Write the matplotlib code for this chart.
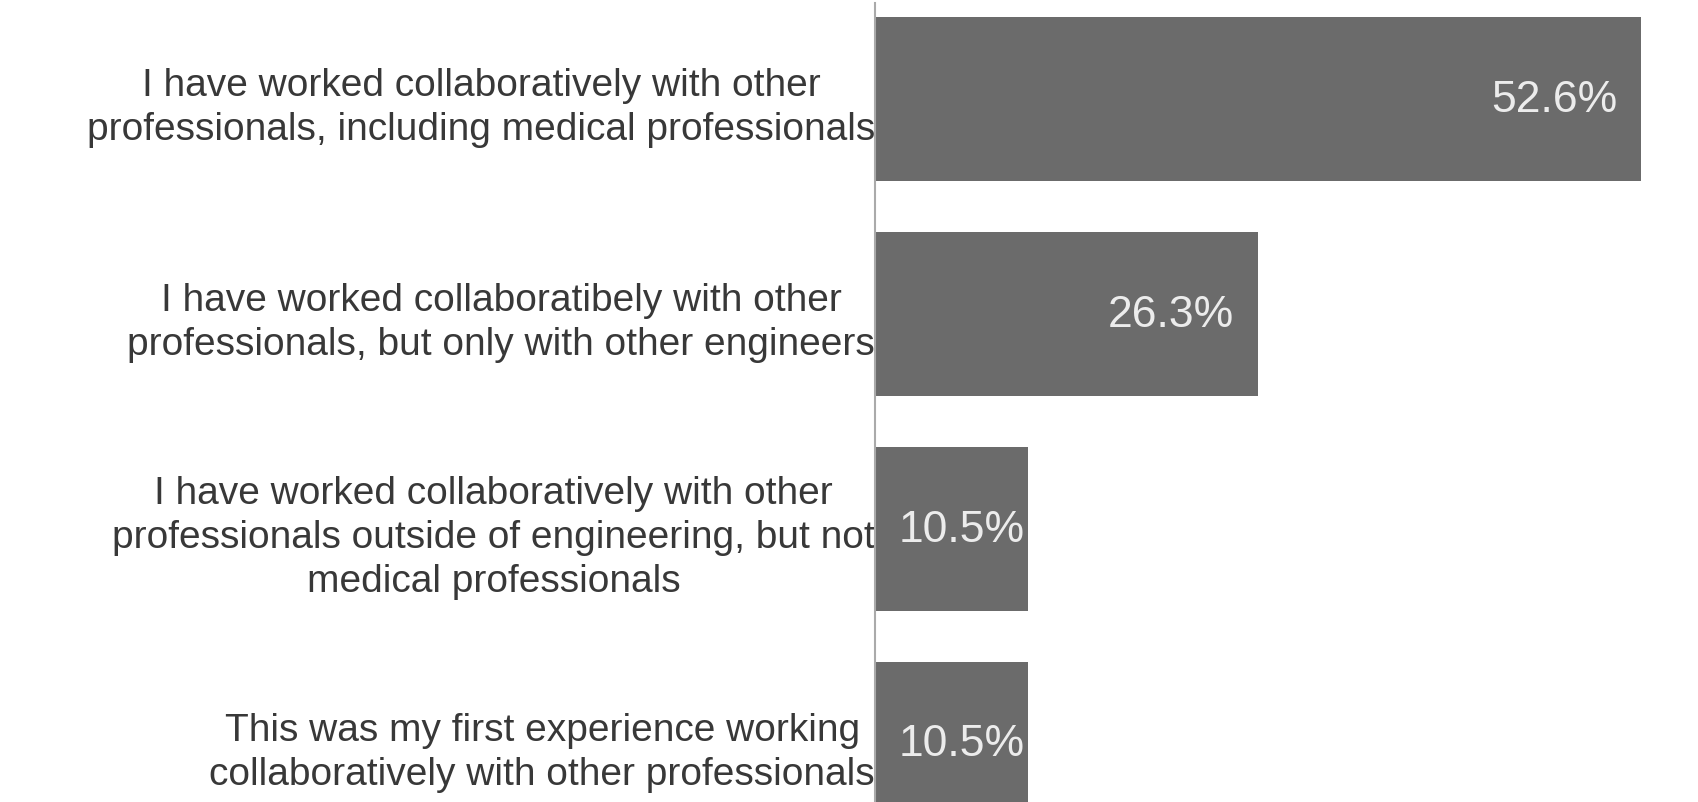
import matplotlib.pyplot as plt

# survey answers, top to bottom
labels = [
    "I have worked collaboratively with other\nprofessionals, including medical professionals",
    "I have worked collaboratibely with other\nprofessionals, but only with other engineers",
    "I have worked collaboratively with other\nprofessionals outside of engineering, but not\nmedical professionals",
    "This was my first experience working\ncollaboratively with other professionals",
]
percent = [52.6, 26.3, 10.5, 10.5]
value_text = ["52.6%", "26.3%", "10.5%", "10.5%"]

plt.rcParams['font.family'] = ['Liberation Sans', 'DejaVu Sans']

fig = plt.figure(figsize=(16.98, 8.03), dpi=100)
ax = fig.add_axes([875 / 1698, 0, 1 - 875 / 1698, 1 - 4 / 803])

ypos = list(range(len(percent)))
bars = ax.barh(ypos, percent, height=0.76, color='#6b6b6b')

ax.set_xlim(0, 56.5)
ax.set_ylim(3.27, -0.447)

for spine in ['top', 'right', 'bottom']:
    ax.spines[spine].set_visible(False)
ax.spines['left'].set_color('#aaaaaa')
ax.spines['left'].set_linewidth(1.5)
ax.set_xticks([])
ax.set_yticks(ypos)
ax.set_yticklabels(labels, fontsize=28, color='#383838', ha='center',
                   linespacing=1.28)
ax.tick_params(axis='y', length=0, pad=0)
# centre the multi-line labels on their own width
fig.canvas.draw()
for t in ax.get_yticklabels():
    w = t.get_window_extent().width
    t.set_x(-w / 2 / ax.get_window_extent().width)

for i, (v, s) in enumerate(zip(percent, value_text)):
    off = -24 if v > 20 else -3
    ax.annotate(s, (v, i), xytext=(off, 0), textcoords='offset pixels',
                ha='right', va='center', fontsize=32, color='#ececec')

fig.savefig('out.png', dpi=100)
